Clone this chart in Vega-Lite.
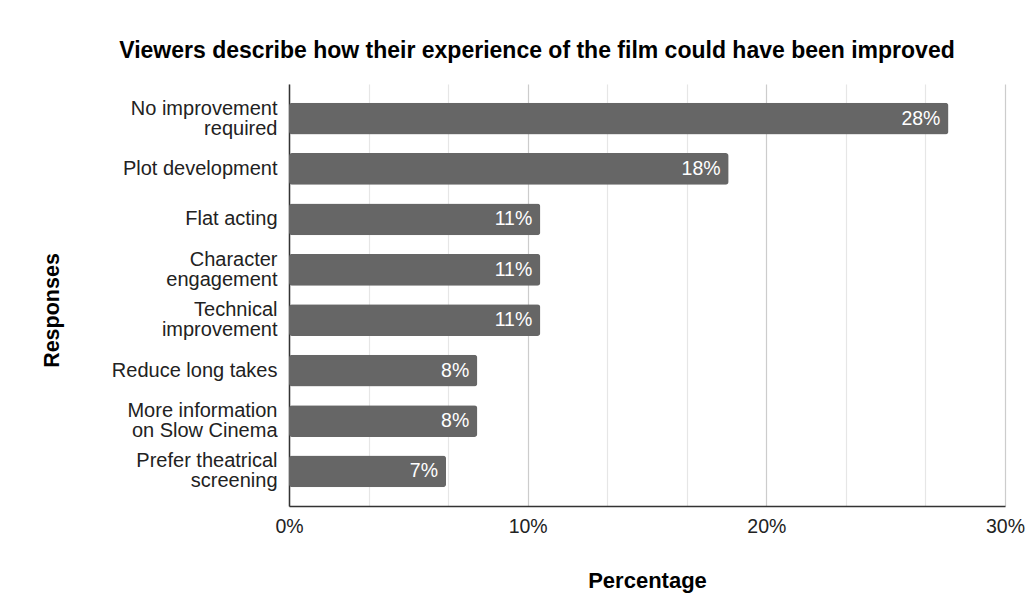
{
  "$schema": "https://vega.github.io/schema/vega-lite/v6.json",
  "width": 716,
  "height": 422,
  "autosize": "none",
  "padding": {"left": 289, "top": 84, "right": 25, "bottom": 109},
  "background": "white",
  "title": {
    "text": "Viewers describe how their experience of the film could have been improved",
    "font": "Liberation Sans",
    "fontSize": 23,
    "fontWeight": "bold",
    "color": "#000000",
    "anchor": "middle",
    "baseline": "alphabetic",
    "dx": -110,
    "offset": 3
  },
  "data": {
    "values": [
      {"response": "No improvement|required", "share": 0.2763},
      {"response": "Plot development", "share": 0.1842},
      {"response": "Flat acting", "share": 0.1053},
      {"response": "Character|engagement", "share": 0.1053},
      {"response": "Technical|improvement", "share": 0.1053},
      {"response": "Reduce long takes", "share": 0.0789},
      {"response": "More information|on Slow Cinema", "share": 0.0789},
      {"response": "Prefer theatrical|screening", "share": 0.0658}
    ]
  },
  "encoding": {
    "y": {
      "field": "response",
      "type": "nominal",
      "sort": null,
      "scale": {"paddingInner": 0.37, "paddingOuter": 0.37},
      "axis": {
        "title": "Responses",
        "titleFont": "Liberation Sans",
        "titleFontSize": 21.5,
        "titleFontWeight": "bold",
        "titleColor": "#000000",
        "titlePadding": 48,
        "titleY": 226,
        "labelExpr": "split(datum.label, '|')",
        "labelFont": "Liberation Sans",
        "labelFontSize": 20,
        "labelColor": "#222222",
        "labelLineHeight": 20,
        "labelOffset": {
          "condition": {"test": "indexof(datum.value, '|') >= 0", "value": -10},
          "value": 0
        },
        "labelPadding": 12,
        "labelLimit": 300,
        "ticks": false,
        "domainColor": "#333333",
        "domainWidth": 1.5,
        "grid": false
      }
    },
    "x": {
      "field": "share",
      "type": "quantitative",
      "scale": {"domain": [0, 0.3], "nice": false},
      "axis": {
        "title": "Percentage",
        "titleFont": "Liberation Sans",
        "titleFontSize": 22,
        "titleFontWeight": "bold",
        "titleColor": "#000000",
        "titlePadding": 35,
        "values": [0, 0.033333, 0.066667, 0.1, 0.133333, 0.166667, 0.2, 0.233333, 0.266667, 0.3],
        "format": ".0%",
        "labelExpr": "abs(datum.value * 10 - round(datum.value * 10)) < 0.001 ? datum.label : ''",
        "labelFont": "Liberation Sans",
        "labelFontSize": 19.5,
        "labelColor": "#222222",
        "labelPadding": 11,
        "labelFlush": false,
        "labelOverlap": false,
        "ticks": false,
        "domainColor": "#333333",
        "domainWidth": 1.5,
        "grid": true,
        "gridColor": {
          "condition": {"test": "abs(datum.value * 10 - round(datum.value * 10)) < 0.001", "value": "#cccccc"},
          "value": "#e6e6e6"
        },
        "gridWidth": 1.2
      }
    }
  },
  "layer": [
    {
      "mark": {"type": "bar", "color": "#666666", "cornerRadius": 3}
    },
    {
      "mark": {
        "type": "text",
        "align": "right",
        "baseline": "middle",
        "dx": -8,
        "color": "#ffffff",
        "font": "Liberation Sans",
        "fontSize": 19.5
      },
      "encoding": {
        "text": {"field": "share", "type": "quantitative", "format": ".0%"}
      }
    }
  ],
  "config": {
    "view": {"stroke": null}
  }
}
